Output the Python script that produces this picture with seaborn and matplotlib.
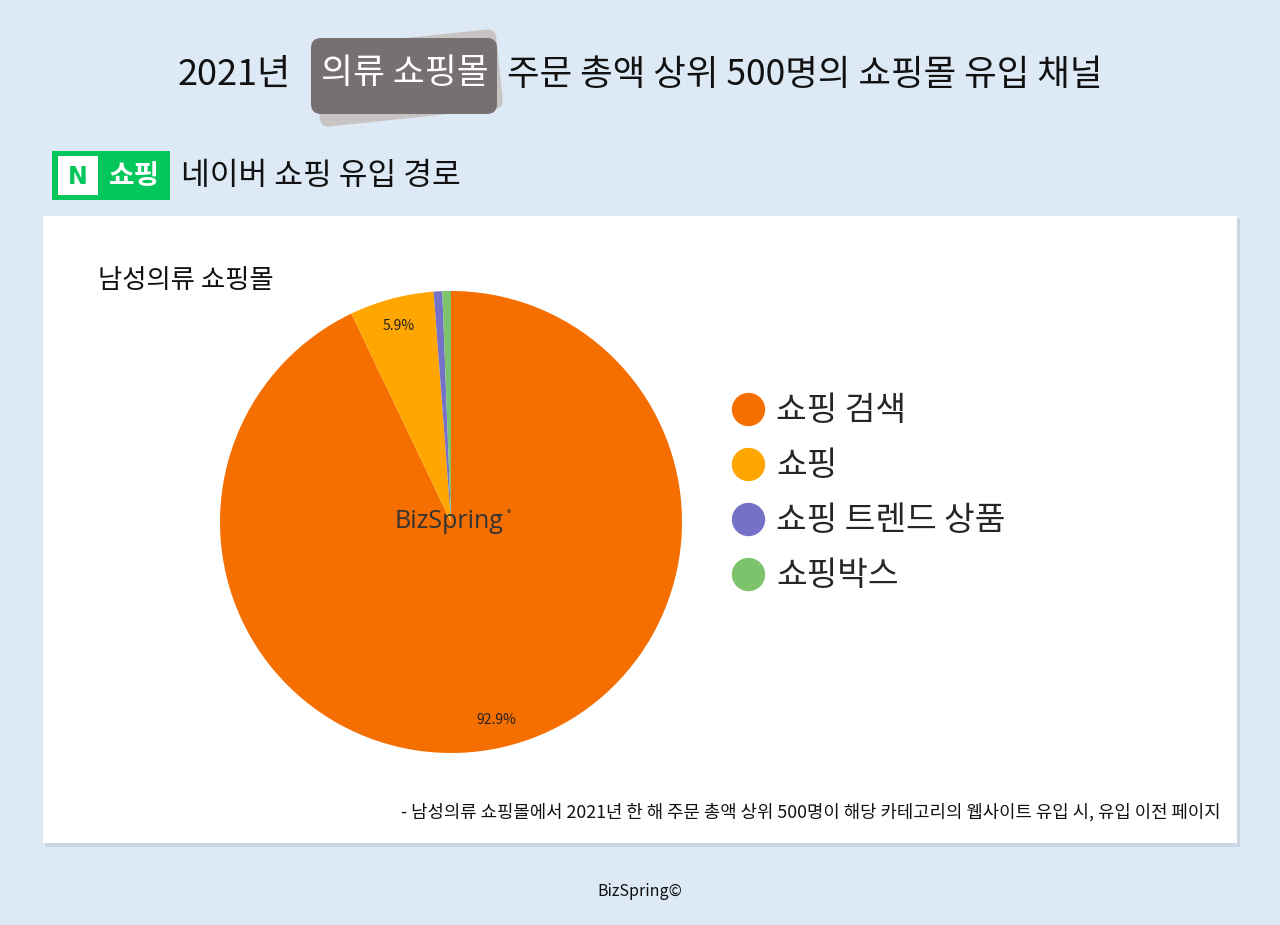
import matplotlib
matplotlib.use("Agg")
import matplotlib.pyplot as plt
import seaborn as sns
from matplotlib.lines import Line2D
from matplotlib.patches import FancyBboxPatch, Rectangle
import matplotlib.transforms as mtransforms

# data
channels = ["쇼핑 검색", "쇼핑", "쇼핑 트렌드 상품", "쇼핑박스"]
shares = [92.9, 5.9, 0.6, 0.6]
colors = ["#f56e00", "#ffa600", "#7570c8", "#7cc36c"]

title_left = "2021년"
title_box = "의류 쇼핑몰"
title_right = "주문 총액 상위 500명의 쇼핑몰 유입 채널"
section = "네이버 쇼핑 유입 경로"
subtitle = "남성의류 쇼핑몰"
footnote = "- 남성의류 쇼핑몰에서 2021년 한 해 주문 총액 상위 500명이 해당 카테고리의 웹사이트 유입 시, 유입 이전 페이지"

sns.set_theme(style="white")
plt.rcParams["font.family"] = ["Noto Sans CJK KR", "DejaVu Sans"]

W, H = 1280, 925
fig = plt.figure(figsize=(12.8, 9.25), dpi=100)
fig.patch.set_facecolor("#dde9f5")


def px(x, y):
    # pixel coords (top-left origin) -> figure fraction
    return x / W, 1 - y / H


def box(x0, y0, x1, y1, **kw):
    fx0, fy1 = px(x0, y1)
    fig.add_artist(Rectangle((fx0, fy1), (x1 - x0) / W, (y1 - y0) / H,
                             transform=fig.transFigure, **kw))


flip = mtransforms.Affine2D().scale(1, -1).translate(0, H)

# white panel with soft shadow
box(45, 219, 1240, 847, facecolor="#c9d6e4", edgecolor="none", zorder=0)
box(43, 216, 1237, 843, facecolor="white", edgecolor="none", zorder=1)

# title
fig.text(*px(291, 75), title_left, ha="right", va="center", fontsize=26, color="#111111")
shadow = FancyBboxPatch((316, 38), 184, 80, boxstyle="round,pad=0,rounding_size=9",
                        facecolor="#c8c4c3", edgecolor="none", zorder=2)
shadow.set_transform(mtransforms.Affine2D().rotate_deg_around(408, 78, -6) + flip)
fig.add_artist(shadow)
main_box = FancyBboxPatch((311, 38), 186, 76, boxstyle="round,pad=0,rounding_size=10",
                          facecolor="#767170", edgecolor="none", zorder=3)
main_box.set_transform(flip)
fig.add_artist(main_box)
fig.text(*px(405, 74), title_box, ha="center", va="center", fontsize=25,
         color="white", fontweight="medium", zorder=4)
fig.text(*px(507, 75), title_right, ha="left", va="center", fontsize=25.5, color="#111111")

# naver shopping badge
box(52, 151, 170, 200, facecolor="#03c75a", edgecolor="none", zorder=2)
box(58, 156, 98, 195, facecolor="white", edgecolor="none", zorder=3)
fig.text(*px(78, 177), "N", ha="center", va="center", fontsize=17, fontweight="black",
         color="#03c75a", family=["DejaVu Sans"], zorder=4)
fig.text(*px(134, 176), "쇼핑", ha="center", va="center", fontsize=20, fontweight="bold",
         color="white", zorder=4)
fig.text(*px(181, 176), section, ha="left", va="center", fontsize=22.5, color="#111111")

fig.text(*px(98, 280), subtitle, ha="left", va="center", fontsize=19, color="#111111", zorder=5)

# pie
cx, cy, r = 451, 522, 231
ax = fig.add_axes([(cx - r) / W, (H - cy - r) / H, 2 * r / W, 2 * r / H])
ax.set_zorder(5)
wedges, texts, autotexts = ax.pie(
    shares, colors=colors, startangle=90, counterclock=False,
    autopct=lambda p: f"{p:.1f}%" if p > 1 else "", pctdistance=0.88,
    wedgeprops=dict(linewidth=0), textprops=dict(fontsize=10, color="#222222"))
ax.set_xlim(-1, 1)
ax.set_ylim(-1, 1)
ax.set_aspect("equal")
ax.axis("off")
ax.text(-0.01, 0.0, "BizSpring", ha="center", va="center", fontsize=18, color="#333333",
        family=["Open Sans", "DejaVu Sans"])
ax.text(0.25, 0.035, "®", ha="center", va="center", fontsize=6, color="#333333")

# legend
handles = [Line2D([], [], marker="o", linestyle="none", markersize=23,
                  markerfacecolor=c, markeredgecolor=c) for c in colors]
fig.legend(handles, channels, loc="upper left", bbox_to_anchor=px(716, 380),
           frameon=False, fontsize=24, labelspacing=0.6, handletextpad=0.3,
           handlelength=1.1, borderaxespad=0)

fig.text(*px(1221, 812), footnote, ha="right", va="center", fontsize=12.8, color="#111111", zorder=5)
fig.text(*px(640, 891), "BizSpring©", ha="center", va="center", fontsize=11.5, color="#111111")

fig.savefig("out.png", dpi=100, facecolor=fig.get_facecolor())
